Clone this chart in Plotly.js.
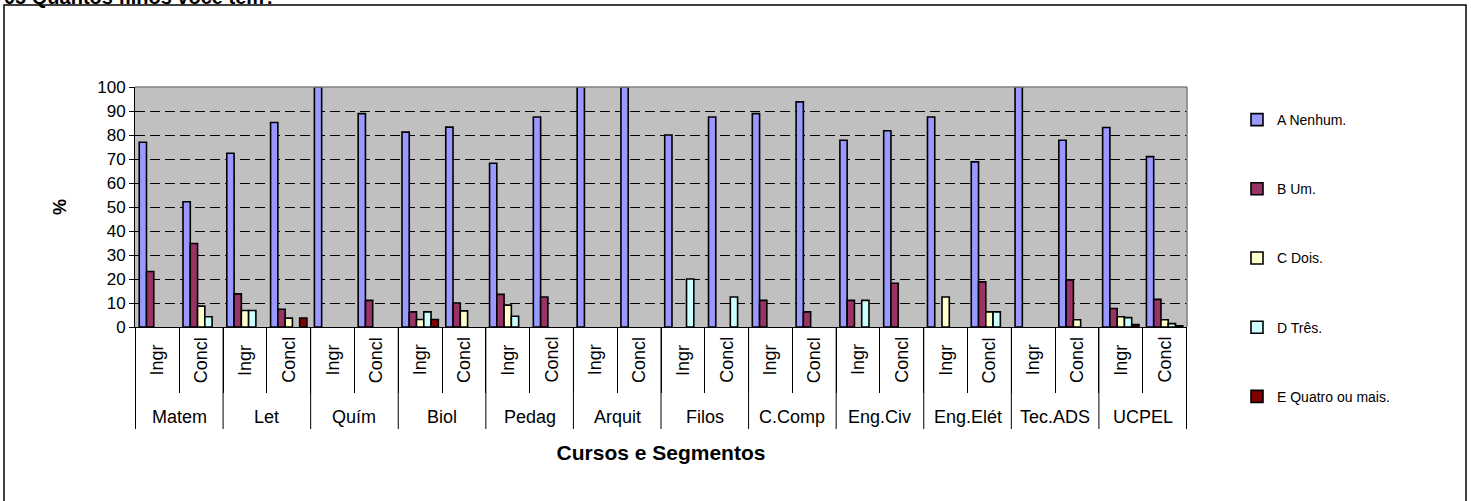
<!DOCTYPE html>
<html>
<head>
<meta charset="utf-8">
<script src="https://cdn.plot.ly/plotly-3.0.1.min.js"></script>
<style>html,body{margin:0;padding:0;background:#fff;}#chart{width:1471px;height:501px;}</style>
</head>
<body>
<div id="chart"></div>
<script>
const courses = ['Matem','Let','Quím','Biol','Pedag','Arquit','Filos','C.Comp','Eng.Civ','Eng.Elét','Tec.ADS','UCPEL'];
const segments = ['Ingr','Concl'];
const seriesNames = ['A Nenhum.','B Um.','C Dois.','D Três.','E Quatro ou mais.'];
const seriesColors = ['#9999FF','#993366','#FFFFCC','#CCFFFF','#800000'];
// values per course: [Ingr, Concl]
const nenhum = [77, 52.2, 72.4, 85.2, 100, 88.9, 81.2, 83.3, 68.2, 87.5, 100, 100, 80, 87.5, 88.9, 93.8, 77.8, 81.8, 87.5, 68.8, 100, 77.8, 83.1, 71];
const um     = [23.1, 34.8, 13.8, 7.4, null, 11.1, 6.3, 10, 13.6, 12.5, null, null, null, null, 11.1, 6.3, 11.1, 18.2, null, 18.8, null, 19.6, 7.7, 11.5];
const dois   = [null, 8.7, 6.9, 3.7, null, null, 3.1, 6.7, 9.1, null, null, null, null, null, null, null, null, null, 12.5, 6.3, null, 3.0, 4.3, 3.0];
const tres   = [null, 4.3, 6.9, null, null, null, 6.3, null, 4.5, null, null, null, 20, 12.5, null, null, 11.1, null, null, 6.3, null, null, 3.9, 1.4];
const quatro = [null, null, null, 3.7, null, null, 3.1, null, null, null, null, null, null, null, null, null, null, null, null, null, null, null, 1.0, 0.5];
const allValues = [nenhum, um, dois, tres, quatro];

const xOuter = [], xInner = [];
courses.forEach(c => segments.forEach(s => { xOuter.push(c); xInner.push(s); }));

const FONT = 'Arial, "Liberation Sans", sans-serif';

const traces = allValues.map((vals, i) => ({
  type: 'bar',
  name: seriesNames[i],
  legendgroup: 'g' + i,
  x: [xOuter, xInner],
  y: vals,
  marker: {color: seriesColors[i], line: {color: '#000', width: 1.6}},
  hoverinfo: 'y'
}));

// plot area geometry (px) used only to place the decorative frame and label rows
const L = 135, R = 1187, T = 87, B = 327, W = 1471, H = 501;
const pw = R - L, ph = B - T;
const px = v => (v - L) / pw;
const py = v => (B - v) / ph;

const nSeg = segments.length;
const shapes = [
  {type: 'line', xref: 'paper', yref: 'paper', x0: 0, x1: 1, y0: 1, y1: 1, line: {color: '#808080', width: 1.5}},
  {type: 'line', xref: 'paper', yref: 'paper', x0: 1, x1: 1, y0: 0, y1: 1, line: {color: '#808080', width: 1.5}},
  {type: 'rect', xref: 'paper', yref: 'paper', x0: px(4), x1: px(1466), y0: py(520), y1: py(5), line: {color: '#000', width: 1.5}, fillcolor: 'rgba(0,0,0,0)', layer: 'below'}
];
// group dividers of the two-level category axis
for (let i = 0; i <= courses.length; i++) {
  const xv = i * nSeg - 0.5;
  shapes.push({type: 'line', xref: 'x', yref: 'paper', x0: xv, x1: xv, y0: 0, y1: py(429), line: {color: '#000', width: 1}});
}

const annotations = [
  {text: '<b>05 Quantos filhos você tem?</b>', xref: 'paper', yref: 'paper', x: px(2), y: py(10), xanchor: 'left', yanchor: 'bottom', showarrow: false, font: {family: FONT, size: 20, color: '#000'}}
];
// inner (segment) labels, rotated
xInner.forEach((s, k) => {
  annotations.push({text: s, xref: 'x', yref: 'paper', x: k, y: py(360), xanchor: 'center', yanchor: 'middle', textangle: -90, showarrow: false, font: {family: FONT, size: 18, color: '#000'}});
});
// outer (course) labels
courses.forEach((c, i) => {
  annotations.push({text: c, xref: 'x', yref: 'paper', x: i * nSeg + (nSeg - 1) / 2, y: py(417), xanchor: 'center', yanchor: 'middle', showarrow: false, font: {family: FONT, size: 18, color: '#000'}});
});

const layout = {
  width: W, height: H,
  margin: {l: L, r: W - R, t: T, b: H - B, pad: 0},
  paper_bgcolor: '#fff',
  plot_bgcolor: '#C0C0C0',
  font: {family: FONT, color: '#000', size: 14},
  barmode: 'group',
  bargap: 0.17,
  bargroupgap: 0,
  showlegend: true,
  legend: {
    x: px(1237), y: py(104), xanchor: 'left', yanchor: 'top',
    font: {family: FONT, size: 14, color: '#000'},
    tracegroupgap: 48, bgcolor: 'rgba(0,0,0,0)', borderwidth: 0,
    maxheight: 480
  },
  xaxis: {
    type: 'multicategory',
    showline: true, linecolor: '#000', linewidth: 1,
    ticks: 'outside', ticklen: 65, tickcolor: '#000', tickwidth: 1,
    tickson: 'boundaries',
    showticklabels: false,
    showdividers: false,
    showgrid: false,
    title: {text: '<b>Cursos e Segmentos</b>', font: {family: FONT, size: 21, color: '#000'}, standoff: 118},
    automargin: false
  },
  yaxis: {
    range: [0, 100], dtick: 10, tick0: 0,
    showline: true, linecolor: '#000', linewidth: 1,
    ticks: 'outside', ticklen: 5, tickcolor: '#000',
    tickfont: {family: FONT, size: 17, color: '#000'},
    showgrid: true, gridcolor: '#000', gridwidth: 1, griddash: '10px,5px',
    zeroline: false,
    title: {text: '<b>%</b>', font: {family: FONT, size: 18, color: '#000'}, standoff: 25},
    automargin: false
  },
  shapes: shapes,
  annotations: annotations
};

Plotly.newPlot('chart', traces, layout, {displayModeBar: false, staticPlot: true});
</script>
</body>
</html>
